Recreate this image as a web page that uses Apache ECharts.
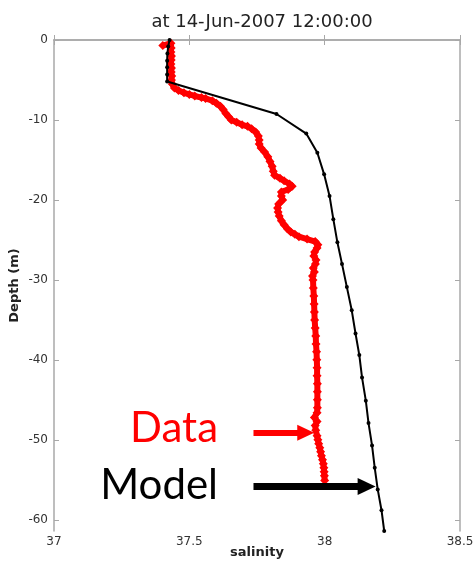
<!DOCTYPE html>
<html>
<head>
<meta charset="utf-8">
<script src="https://cdn.jsdelivr.net/npm/echarts@6/dist/echarts.min.js"></script>
<style>
  html, body { margin: 0; padding: 0; background: #fff; }
  #chart { width: 475px; height: 565px; }
</style>
</head>
<body>
<div id="chart"></div>
<script>
const TITLE = "at 14-Jun-2007 12:00:00";
const X_TICKS = [37, 37.5, 38, 38.5];
const Y_TICKS = [0, -10, -20, -30, -40, -50, -60];

// observed profile (red)
const dataDepth = [
  -0.7, -0.4, -1.0, -1.5, -2.0, -2.5, -3.0, -3.5, -4.0, -4.5, -5.0, -5.5,
  -6.0, -6.3, -6.6, -6.8, -7.0, -7.2, -7.3, -7.6, -7.9, -8.3, -8.7, -9.2,
  -9.6, -10.0, -10.3, -10.6, -10.8, -11.1, -11.5, -12.0, -12.5, -13.0, -13.5,
  -14.0, -14.6, -15.2, -15.8, -16.4, -16.9, -17.3, -17.6, -18.0, -18.3, -18.7,
  -19.0, -19.5, -20.0, -20.5, -21.0, -21.5, -22.0, -22.6, -23.1, -23.6, -24.0,
  -24.3, -24.6, -24.9, -25.2, -25.6, -26.0, -26.5, -27.0, -27.5, -28.0, -28.5,
  -29.0, -29.5, -30.0, -31, -32, -33, -34, -35, -36, -37, -38, -39, -40, -41,
  -42, -43, -44, -45, -46, -46.6, -47.2, -47.7, -48.2, -48.8, -49.5, -50,
  -50.5, -51, -51.5, -52, -52.5, -53, -53.5, -54, -54.5, -55.1
];
const dataSal = [
  37.402, 37.432, 37.433, 37.432, 37.434, 37.433, 37.432, 37.434, 37.433, 37.435, 37.434, 37.437,
  37.445, 37.46, 37.48, 37.50, 37.52, 37.545, 37.56, 37.585, 37.60, 37.615, 37.625, 37.635,
  37.645, 37.655, 37.675, 37.695, 37.715, 37.73, 37.745, 37.755, 37.758, 37.758, 37.765,
  37.778, 37.79, 37.798, 37.806, 37.81, 37.815, 37.835, 37.85, 37.87, 37.88, 37.865,
  37.84, 37.84, 37.845, 37.83, 37.826, 37.828, 37.832, 37.84, 37.85, 37.862, 37.875,
  37.89, 37.905, 37.935, 37.965, 37.975, 37.972, 37.963, 37.96, 37.968, 37.966, 37.958,
  37.962, 37.955, 37.957, 37.958, 37.96, 37.961, 37.962, 37.963, 37.965, 37.967, 37.968, 37.97, 37.971, 37.972,
  37.972, 37.973, 37.973, 37.973, 37.973, 37.972, 37.962, 37.972, 37.965, 37.967, 37.972, 37.975,
  37.978, 37.982, 37.985, 37.988, 37.992, 37.995, 37.997, 37.998, 37.999, 38.0
];

// model profile (black)
const modelDepth = [
  0, -0.8, -1.7, -2.6, -3.4, -4.3, -5.2, -9.25, -11.7, -14.1, -16.8, -19.5, -22.4,
  -25.3, -28.0, -30.9, -33.8, -36.7, -39.4, -42.2, -45.1, -47.9, -50.7, -53.5,
  -56.2, -58.8, -61.4
];
const modelSal = [
  37.427, 37.422, 37.419, 37.418, 37.418, 37.418, 37.418, 37.822, 37.932, 37.973, 37.998, 38.018, 38.032,
  38.047, 38.064, 38.082, 38.100, 38.114, 38.128, 38.138, 38.152, 38.162, 38.175, 38.185,
  38.196, 38.210, 38.220
];

// annotation arrows: [startSal, endSal, depth]
const dataArrow = [37.737, 37.93, -49.1];
const modelArrow = [37.737, 38.155, -55.85];

const chart = echarts.init(document.getElementById("chart"), null, { renderer: "canvas" });

const FRAME = "#a8a8a8";
const LABEL = "#333";
const FONT = "DejaVu Sans";

const frameAxis = {
  axisLine: { show: true, lineStyle: { color: FRAME, width: 1.5 } },
  axisTick: { show: true, inside: true, length: 5, lineStyle: { color: FRAME } },
  splitLine: { show: false }
};

const option = {
  animation: false,
  backgroundColor: "#fff",
  title: {
    text: TITLE,
    left: 257,
    textAlign: "center",
    top: 8,
    textStyle: { fontFamily: FONT, fontSize: 18, fontWeight: "normal", color: "#222" }
  },
  grid: { left: 54, right: 15, top: 40, bottom: 34, containLabel: false, outerBoundsMode: "none" },
  xAxis: [
    {
      type: "value", min: 37, max: 38.5, interval: 0.5, position: "bottom",
      name: "salinity", nameLocation: "middle", nameGap: 15, nameMoveOverlap: false,
      nameTextStyle: { fontFamily: FONT, fontSize: 13, fontWeight: "bold", color: "#222" },
      ...frameAxis,
      axisLabel: {
        fontFamily: FONT, fontSize: 12, color: LABEL, margin: 5,
        customValues: X_TICKS,
        formatter: (v) => String(v)
      }
    },
    {
      type: "value", min: 37, max: 38.5, interval: 0.5, position: "top",
      ...frameAxis,
      axisLabel: { show: false }
    }
  ],
  yAxis: [
    {
      type: "value", min: -61.4, max: 0, position: "left",
      name: "Depth (m)", nameLocation: "middle", nameGap: 33, nameMoveOverlap: false,
      nameTextStyle: { fontFamily: FONT, fontSize: 13, fontWeight: "bold", color: "#222" },
      ...frameAxis,
      axisTick: { show: true, inside: true, length: 5, lineStyle: { color: FRAME }, customValues: Y_TICKS },
      axisLabel: { fontFamily: FONT, fontSize: 12, color: LABEL, margin: 6, customValues: Y_TICKS }
    },
    {
      type: "value", min: -61.4, max: 0, position: "right",
      ...frameAxis,
      axisTick: { show: true, inside: true, length: 5, lineStyle: { color: FRAME }, customValues: Y_TICKS },
      axisLabel: { show: false }
    }
  ],
  graphic: [
    {
      type: "text", x: 218, y: 449,
      style: { text: "Data", fill: "#ff0000", font: "42px Lato", textAlign: "right", textVerticalAlign: "bottom" }
    },
    {
      type: "text", x: 218, y: 506,
      style: { text: "Model", fill: "#000", font: "42px Lato", textAlign: "right", textVerticalAlign: "bottom" }
    }
  ],
  series: [
    {
      name: "Data",
      type: "line",
      data: dataSal.map((s, i) => [s, dataDepth[i]]),
      symbol: "diamond",
      symbolSize: 9,
      showAllSymbol: true,
      lineStyle: { color: "#ff0000", width: 6 },
      itemStyle: { color: "#ff0000" },
      z: 2,
      markLine: {
        silent: true,
        symbol: ["none", "triangle"],
        symbolSize: [16, 17],
        label: { show: false },
        lineStyle: { color: "#ff0000", width: 6, type: "solid" },
        data: [[{ coord: [dataArrow[0], dataArrow[2]] }, { coord: [dataArrow[1], dataArrow[2]] }]]
      }
    },
    {
      name: "Model",
      type: "line",
      data: modelSal.map((s, i) => [s, modelDepth[i]]),
      symbol: "circle",
      symbolSize: 4,
      showAllSymbol: true,
      lineStyle: { color: "#000", width: 2 },
      itemStyle: { color: "#000" },
      z: 3,
      markLine: {
        silent: true,
        symbol: ["none", "triangle"],
        symbolSize: [17, 18],
        label: { show: false },
        lineStyle: { color: "#000", width: 7, type: "solid" },
        data: [[{ coord: [modelArrow[0], modelArrow[2]] }, { coord: [modelArrow[1], modelArrow[2]] }]]
      }
    }
  ]
};

chart.setOption(option);
</script>
</body>
</html>
